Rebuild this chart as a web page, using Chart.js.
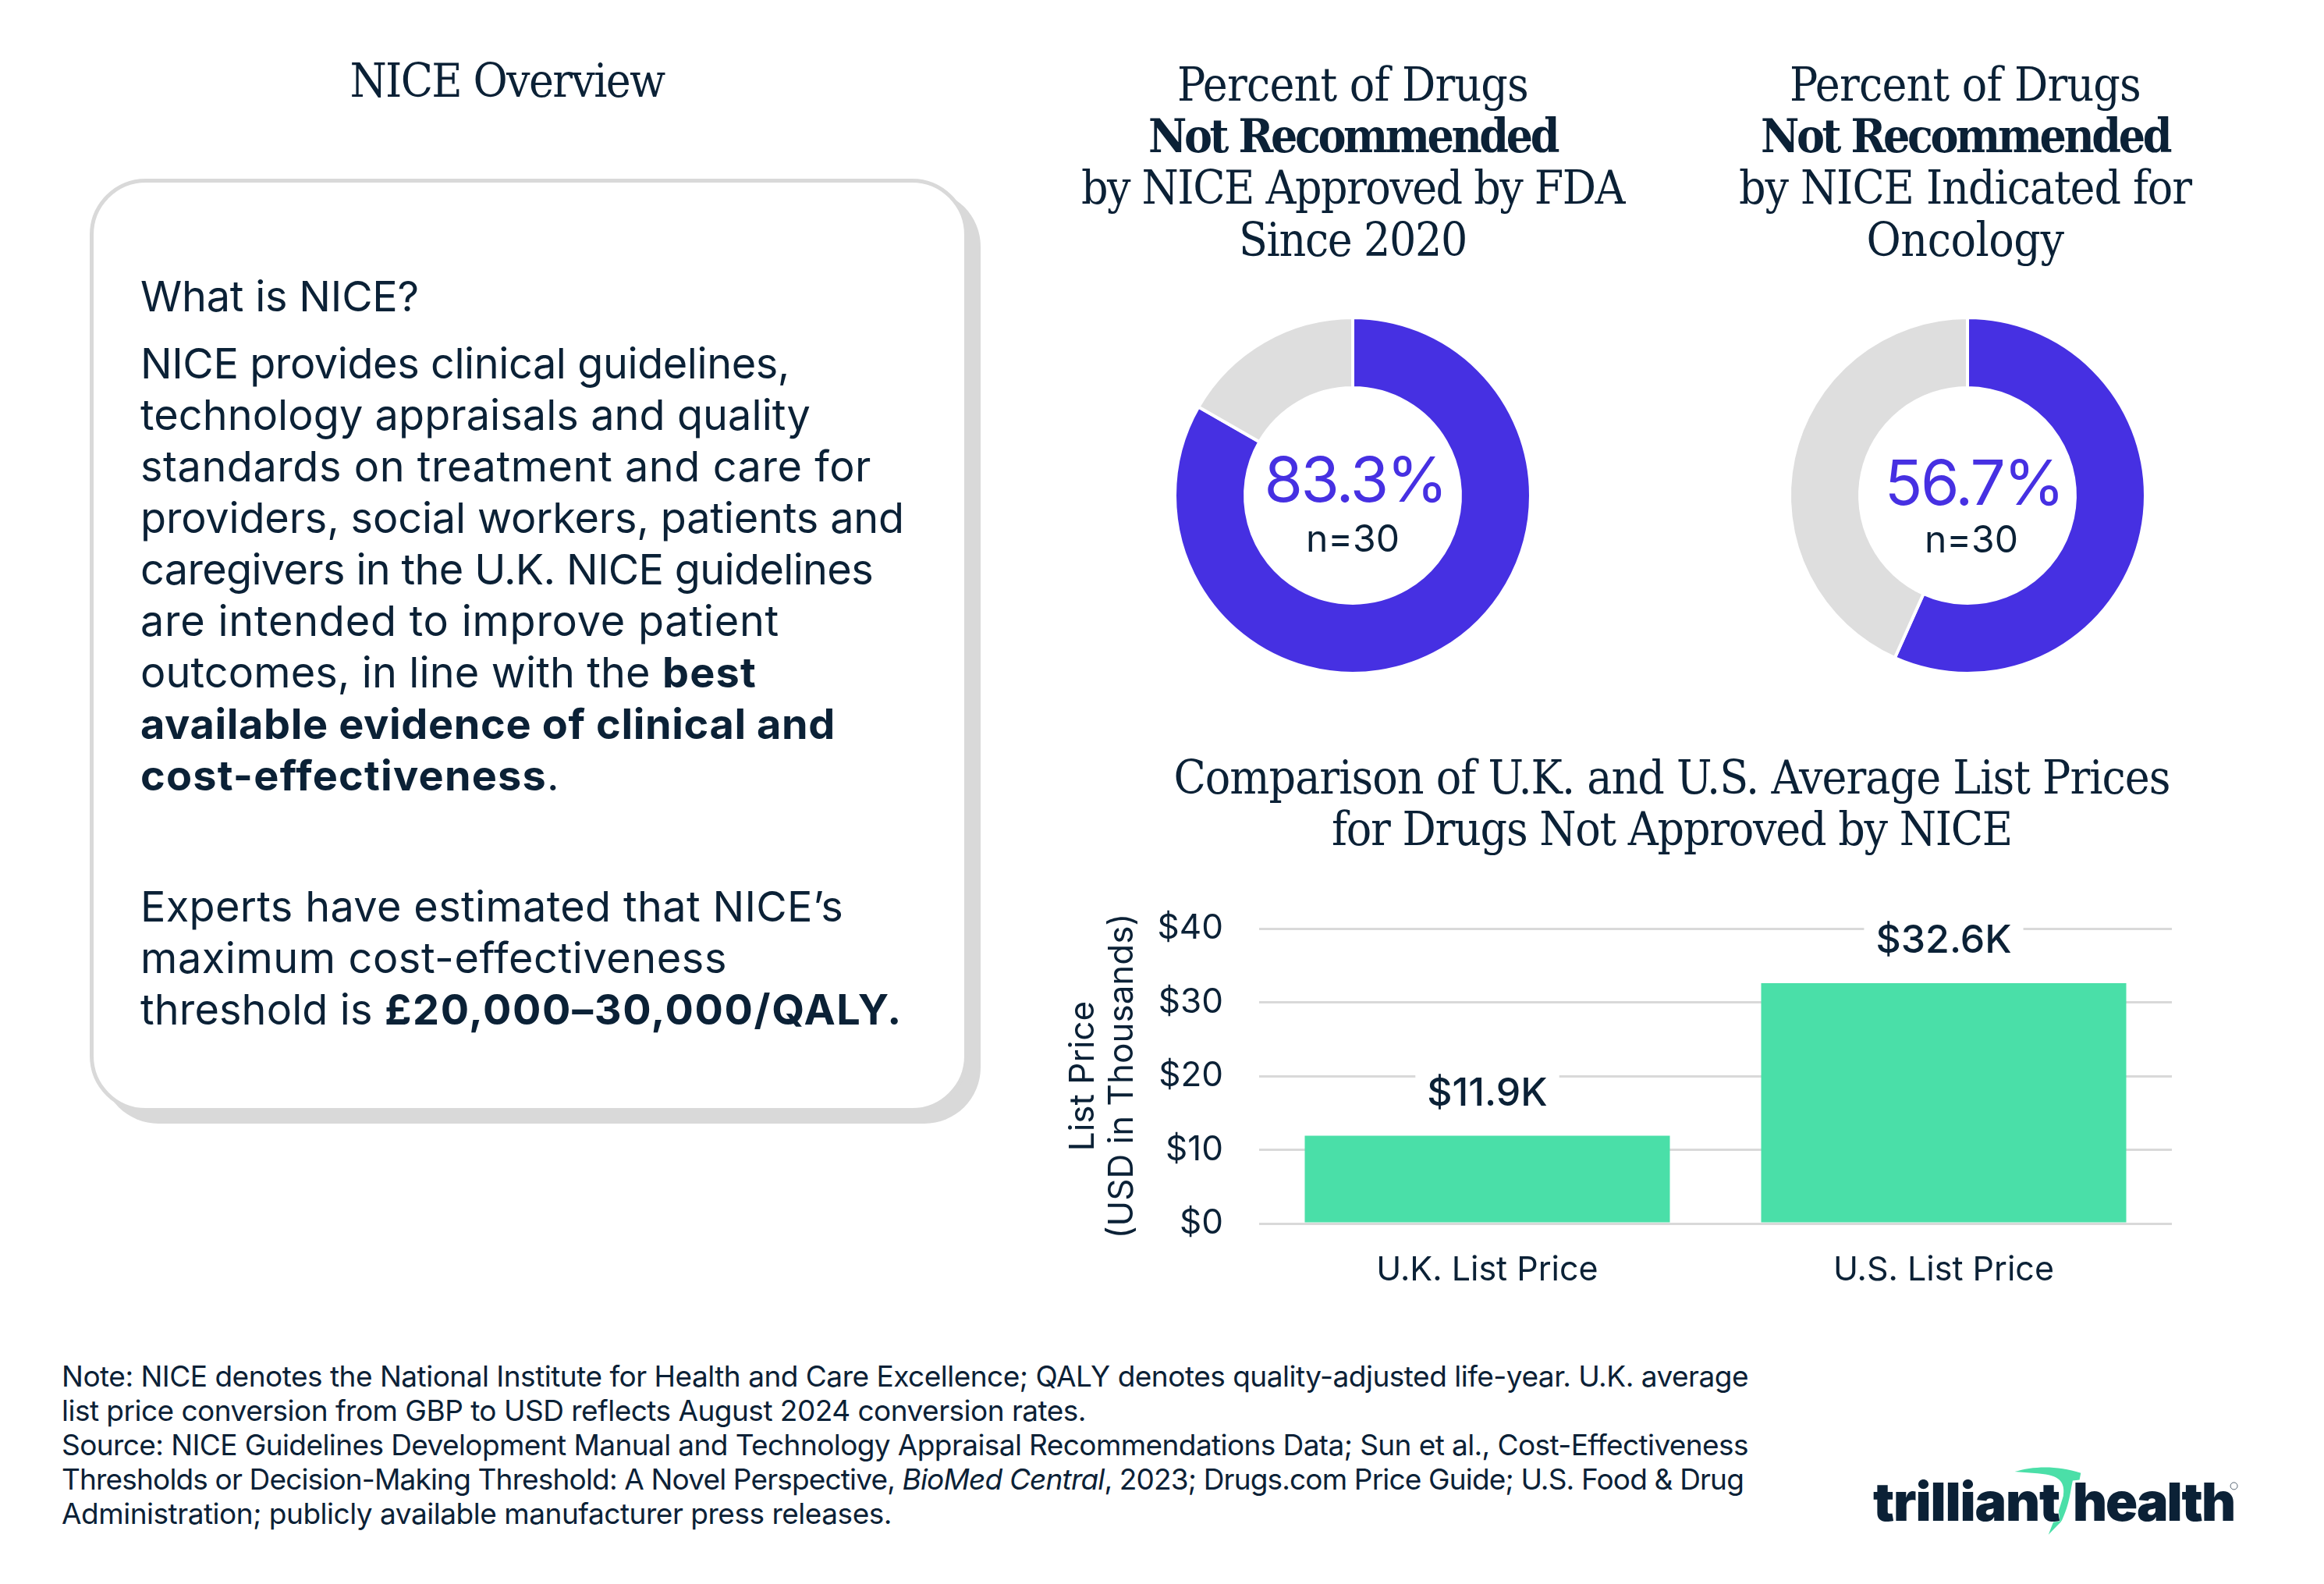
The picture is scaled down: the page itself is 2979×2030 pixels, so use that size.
<!DOCTYPE html>
<html><head><meta charset="utf-8">
<script src="https://cdn.jsdelivr.net/npm/chart.js@4"></script>
<style>
html,body{margin:0;padding:0;background:#fff;width:2979px;height:2030px;overflow:hidden}
body{position:relative;color:#0B2136}
canvas{position:absolute}
.t{position:absolute;white-space:pre;line-height:1;color:#0B2136}
.serif{font-family:"DejaVu Serif";font-stretch:condensed;font-size:60px}
.body{font-family:Inter,sans-serif;font-size:54px}
.foot{font-family:Inter,sans-serif;font-size:37px}
.card{position:absolute;left:115px;top:229px;width:1126px;height:1196px;box-sizing:border-box;border:5px solid #D9D9D9;border-radius:72px;background:#fff;box-shadow:16px 15px 0 0 #D9D9D9}
.logo{font-family:Inter,sans-serif;font-weight:900;font-size:68px}
</style></head><body>
<div class="card"></div>
<canvas id="d1" width="520" height="520" style="left:1474px;top:375px;width:520px;height:520px"></canvas>
<canvas id="d2" width="520" height="520" style="left:2262px;top:375px;width:520px;height:520px"></canvas>
<canvas id="bar" width="1500" height="550" style="left:1340px;top:1150px;width:1500px;height:550px"></canvas>
<script>
const donutLabels = ['Not Recommended', 'Other'];
const fdaValues = [83.3, 16.7];
const oncologyValues = [56.7, 43.3];
const donutCenterText = [['83.3%', 'n=30'], ['56.7%', 'n=30']];
const barCategories = ['U.K. List Price', 'U.S. List Price'];
const barValues = [11.9, 32.6];
const barLabels = ['$11.9K', '$32.6K'];
const yTicks = [0, 10, 20, 30, 40];
const yTitle = ['List Price', '(USD in Thousands)'];

const NAVY = '#0B2136', PURPLE = '#4630E2', GREY = '#DEDEDE', GREEN = '#4ADFA8', GRID = '#D9D9D9';
const FONT = 'Inter, sans-serif';

// [segments of [html, target width], anchor x, centre y, class, align]
const texts = [
  [[['NICE Overview', 403]], 650, 103, 'serif', 'c'],
  [[['Percent of Drugs', 450]], 1734, 108, 'serif', 'c'],
  [[['<b>Not Recommended</b>', 524]], 1734, 174, 'serif', 'c'],
  [[['by NICE Approved by FDA', 696]], 1734, 240, 'serif', 'c'],
  [[['Since 2020', 292]], 1734, 307, 'serif', 'c'],
  [[['Percent of Drugs', 450]], 2519, 108, 'serif', 'c'],
  [[['<b>Not Recommended</b>', 524]], 2519, 174, 'serif', 'c'],
  [[['by NICE Indicated for', 580]], 2519, 240, 'serif', 'c'],
  [[['Oncology', 253]], 2519, 307, 'serif', 'c'],
  [[['Comparison of U.K. and U.S. Average List Prices', 1277]], 2143, 996, 'serif', 'c'],
  [[['for Drugs Not Approved by NICE', 872]], 2143, 1062, 'serif', 'c'],
  [[['What is NICE?', 357]], 180, 380, 'body', 'l'],
  [[['NICE provides clinical guidelines,', 832]], 180, 466, 'body', 'l'],
  [[['technology appraisals and quality', 859]], 180, 532, 'body', 'l'],
  [[['standards on treatment and care for', 937]], 180, 598, 'body', 'l'],
  [[['providers, social workers, patients and', 979]], 180, 664, 'body', 'l'],
  [[['caregivers in the U.K. NICE guidelines', 939]], 180, 730, 'body', 'l'],
  [[['are intended to improve patient', 819]], 180, 796, 'body', 'l'],
  [[['outcomes, in line with the ', 669], ['<b>best</b>', 121]], 180, 862, 'body', 'l'],
  [[['<b>available evidence of clinical and</b>', 891]], 180, 928, 'body', 'l'],
  [[['<b>cost-effectiveness</b>', 521], ['.', 11]], 180, 994, 'body', 'l'],
  [[['Experts have estimated that NICE’s', 901]], 180, 1162, 'body', 'l'],
  [[['maximum cost-effectiveness', 752]], 180, 1228, 'body', 'l'],
  [[['threshold is ', 313], ['<b>£20,000–30,000/QALY.</b>', 664]], 180, 1294, 'body', 'l'],
  [[['Note: NICE denotes the National Institute for Health and Care Excellence; QALY denotes quality-adjusted life-year. U.K. average', 2162]], 79, 1763, 'foot', 'l'],
  [[['list price conversion from GBP to USD reflects August 2024 conversion rates.', 1313]], 79, 1807, 'foot', 'l'],
  [[['Source: NICE Guidelines Development Manual and Technology Appraisal Recommendations Data; Sun et al., Cost-Effectiveness', 2162]], 79, 1851, 'foot', 'l'],
  [[['Thresholds or Decision-Making Threshold: A Novel Perspective, <i>BioMed Central</i>, 2023; Drugs.com Price Guide; U.S. Food &amp; Drug', 2156]], 79, 1895, 'foot', 'l'],
  [[['Administration; publicly available manufacturer press releases.', 1064]], 79, 1939, 'foot', 'l'],
  [[['<span class="logo">trilliant</span>', 239]], 2401, 1924, 'body', 'l'],
  [[['<span class="logo">health</span>', 207]], 2657, 1924, 'body', 'l'],
];
function place(){
  for (const [segs, x, y, cls, al] of texts) {
    const el = document.createElement('div');
    el.className = 't ' + cls;
    document.body.appendChild(el);
    for (const [html, w] of segs) {
      const s = document.createElement('span');
      s.innerHTML = html;
      el.appendChild(s);
      const nat = s.getBoundingClientRect().width;
      s.style.letterSpacing = ((w - nat) / s.textContent.length).toFixed(3) + 'px';
    }
    const r = el.getBoundingClientRect();
    el.style.left = (al === 'c' ? x - r.width / 2 : x) + 'px';
    el.style.top = (y - r.height / 2) + 'px';
  }
}
place();
document.body.insertAdjacentHTML('beforeend',
  '<svg style="position:absolute;left:2380px;top:1860px;width:540px;height:130px" viewBox="0 0 1560 375"><path fill="#4BDFA8" d="M585,75 C650,55 740,50 830,80 L825,105 L800,108 C790,150 790,190 760,255 L755,262 L710,308 L728,262 L752,258 L748,220 L765,165 C770,130 765,95 700,85 C660,80 620,78 585,75 Z"/><circle cx="1397" cy="128" r="13" fill="none" stroke="#0B2136" stroke-width="2"/></svg>');

const centerOffsets = [[3, -16, 0, 58], [8, -12, 5, 59]];
function centerPlugin(idx){
  return {
    id: 'center' + idx,
    afterDraw(chart){
      const meta = chart.getDatasetMeta(0).data[0];
      const [dx1, dy1, dx2, dy2] = centerOffsets[idx];
      const ctx = chart.ctx;
      ctx.save();
      ctx.textAlign = 'center';
      ctx.textBaseline = 'middle';
      ctx.fillStyle = PURPLE;
      ctx.font = '400 80px ' + FONT;
      ctx.letterSpacing = '-2.6px';
      ctx.fillText(donutCenterText[idx][0], meta.x + dx1, meta.y + dy1);
      ctx.letterSpacing = '0px';
      ctx.fillStyle = NAVY;
      ctx.font = '400 48px ' + FONT;
      ctx.fillText(donutCenterText[idx][1], meta.x + dx2, meta.y + dy2);
      ctx.restore();
    }
  };
}
function donut(id, values, idx){
  new Chart(document.getElementById(id), {
    type: 'doughnut',
    data: { labels: donutLabels, datasets: [{ data: values, backgroundColor: [PURPLE, GREY], borderColor: '#fff', borderWidth: 4, hoverOffset: 0 }] },
    options: {
      responsive: false, animation: false, devicePixelRatio: 1,
      radius: 228, cutout: '60.5%', rotation: 0, circumference: 360,
      plugins: { legend: { display: false }, tooltip: { enabled: false } }
    },
    plugins: [centerPlugin(idx)]
  });
}
donut('d1', fdaValues, 0);
donut('d2', oncologyValues, 1);

const barLabelPlugin = {
  id: 'barLabels',
  afterDatasetsDraw(chart){
    const ctx = chart.ctx;
    ctx.save();
    ctx.font = '500 50px ' + FONT;
    ctx.textAlign = 'center';
    ctx.textBaseline = 'middle';
    chart.getDatasetMeta(0).data.forEach((el, i) => {
      const y = el.y - 54;
      const w = ctx.measureText(barLabels[i]).width + 30;
      ctx.fillStyle = '#fff';
      ctx.fillRect(el.x - w / 2, y - 30, w, 60);
      ctx.fillStyle = NAVY;
      ctx.fillText(barLabels[i], el.x, y);
    });
    ctx.restore();
  }
};
new Chart(document.getElementById('bar'), {
  type: 'bar',
  data: { labels: barCategories, datasets: [{ data: barValues, backgroundColor: GREEN, borderWidth: 0, barPercentage: 0.8, categoryPercentage: 1 }] },
  options: {
    responsive: false, animation: false, devicePixelRatio: 1,
    layout: { padding: { top: 40, right: 56, left: 23, bottom: 0 } },
    plugins: { legend: { display: false }, tooltip: { enabled: false } },
    scales: {
      x: {
        afterFit(s){ s.height = 132; },
        grid: { display: false, drawTicks: false },
        border: { display: false },
        ticks: { color: NAVY, font: { family: FONT, size: 43 }, padding: 34, maxRotation: 0 }
      },
      y: {
        min: 0, max: 40,
        afterFit(s){ s.width = 251; s.paddingTop = 0; s.paddingBottom = 0; },
        afterBuildTicks(s){ s.ticks = yTicks.map(v => ({ value: v })); },
        grid: { color: GRID, lineWidth: 3, drawTicks: false },
        border: { display: false },
        ticks: { color: NAVY, font: { family: FONT, size: 44 }, padding: 46, callback: v => '$' + v },
        title: { display: true, text: yTitle, color: NAVY, font: { family: FONT, size: 44, lineHeight: 1.15 }, padding: { top: 0, bottom: 0 } }
      }
    }
  },
  plugins: [barLabelPlugin]
});
</script>
</body></html>
